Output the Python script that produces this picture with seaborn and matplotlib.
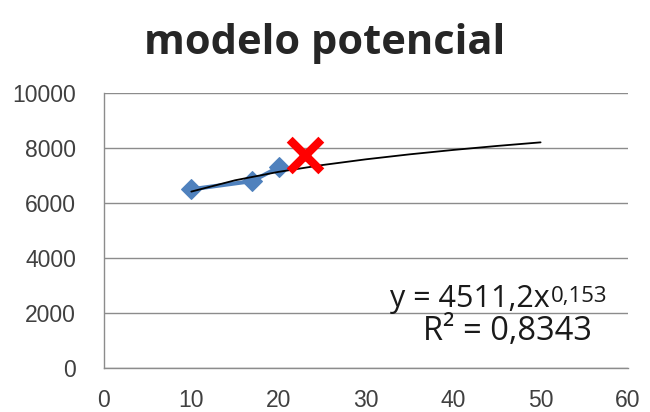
import matplotlib
matplotlib.use("Agg")
import matplotlib.pyplot as plt
import seaborn as sns
import pandas as pd

# data
obs_x = [10, 17, 20]
obs_y = [6500, 6800, 7300]
new_x = [23]
new_y = [7750]
trend_x = [10, 15, 20, 25, 30, 35, 40, 45, 50]
trend_y = [6416, 6827, 7135, 7382, 7591, 7772, 7932, 8077, 8208]
x_ticks = [0, 10, 20, 30, 40, 50, 60]
y_ticks = [0, 2000, 4000, 6000, 8000, 10000]

sns.set_theme(style="white")
plt.rcParams['font.family'] = ['Liberation Sans', 'DejaVu Sans']

fig = plt.figure(figsize=(6.5, 4.12), dpi=100)
ax = fig.add_axes([0.16, 0.107, 0.806, 0.667])

obs = pd.DataFrame({"x": obs_x, "y": obs_y})
trend = pd.DataFrame({"x": trend_x, "y": trend_y})
new = pd.DataFrame({"x": new_x, "y": new_y})

sns.lineplot(data=obs, x="x", y="y", ax=ax, color="#4F81BD", linewidth=3,
             marker="D", markersize=10, markeredgecolor="#4F81BD", zorder=3)
sns.lineplot(data=trend, x="x", y="y", ax=ax, color="black", linewidth=1.3, zorder=4)
sns.scatterplot(data=new, x="x", y="y", ax=ax, color="#FF0000", marker="x",
                s=520, linewidth=6, zorder=5)

ax.set_xlim(0, 60)
ax.set_ylim(0, 10000)
ax.set_xticks(x_ticks)
ax.set_yticks(y_ticks)
ax.set_xticklabels([str(v) for v in x_ticks])
ax.set_yticklabels([str(v) for v in y_ticks])
ax.set_xlabel("")
ax.set_ylabel("")

ax.grid(axis="y", color="#8C8C8C", linewidth=1)
ax.grid(axis="x", visible=False)
for s in ["top", "right"]:
    ax.spines[s].set_visible(False)
for s in ["left", "bottom"]:
    ax.spines[s].set_color("#8C8C8C")
    ax.spines[s].set_linewidth(1)
ax.tick_params(axis="both", which="major", direction="out", length=9,
               color="#8C8C8C", width=1, labelsize=16.5, labelcolor="#404040")
ax.tick_params(axis="y", pad=11)
ax.tick_params(axis="x", pad=6)

fig.text(0.5, 0.895, "modelo potencial", ha="center", va="center",
         fontsize=30, fontweight="bold", family=["Open Sans", "DejaVu Sans"])

eq_font = ["Open Sans", "DejaVu Sans"]
t1 = ax.text(0.545, 0.22, "y = 4511,2x", transform=ax.transAxes, ha="left",
             va="baseline", fontsize=22, family=eq_font, color="#1a1a1a")
ax.annotate("0,153", xy=(1, 1), xycoords=t1, xytext=(1, -1), textcoords="offset points",
            ha="left", va="top", fontsize=16, family=eq_font, color="#1a1a1a")
ax.text(0.932, 0.1, "R² = 0,8343", transform=ax.transAxes, ha="right",
        va="baseline", fontsize=23.5, family=eq_font, color="#1a1a1a")

fig.savefig("out.png", dpi=100, facecolor="white")
